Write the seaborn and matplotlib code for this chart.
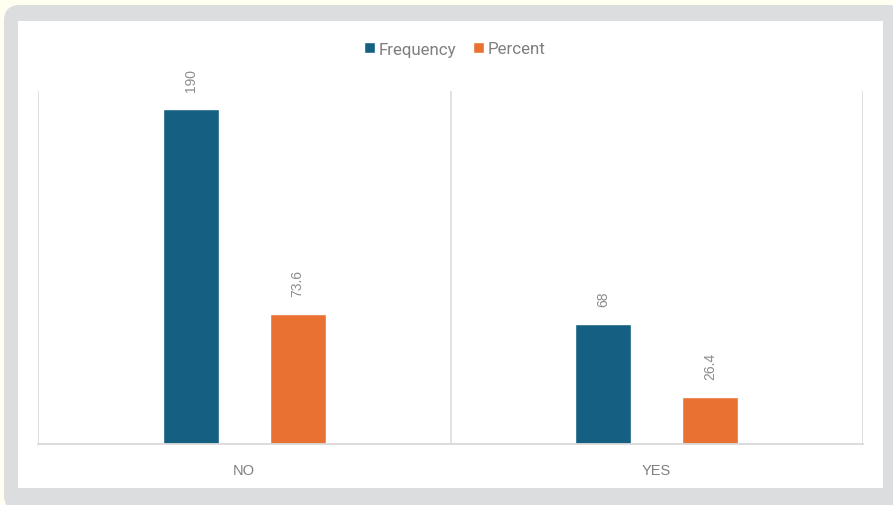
import matplotlib
matplotlib.use("Agg")
import matplotlib.pyplot as plt
import seaborn as sns
import pandas as pd
from matplotlib.patches import FancyBboxPatch, Rectangle

categories = ["NO", "YES"]
frequency = [190, 68]
percent = [73.6, 26.4]
series_names = ["Frequency", "Percent"]
colors = ["#156082", "#E97132"]

df = pd.DataFrame({
    "cat": categories * 2,
    "value": frequency + percent,
    "series": [series_names[0]] * 2 + [series_names[1]] * 2,
})

sns.set_theme(style="white")
plt.rcParams["font.family"] = ["Roboto", "DejaVu Sans"]

W, H = 893, 506
fig = plt.figure(figsize=(W / 100, H / 100), dpi=100, facecolor="#fefef1")

# outer gray rounded frame and inner white panel
fig.patches.append(FancyBboxPatch((4 / W, -6 / H), 900 / W, 506 / H,
                                  boxstyle="round,pad=0,rounding_size=0.018",
                                  transform=fig.transFigure, facecolor="#dcdddf",
                                  edgecolor="none", zorder=-2, mutation_aspect=W / H))
fig.patches.append(Rectangle((18 / W, (H - 489) / H), (883 - 18) / W, (489 - 22) / H,
                             transform=fig.transFigure, facecolor="white",
                             edgecolor="none", zorder=-1))

ax = fig.add_axes([38 / W, 61 / H, (863 - 38) / W, (445 - 92) / H])
ax.set_facecolor("none")
ax.set_zorder(1)

sns.barplot(data=df, x="cat", y="value", hue="series", palette=colors,
            order=categories, hue_order=series_names, width=0.518, gap=0.476,
            saturation=1, ax=ax, legend=True)

ax.set_xlim(-0.5, 1.5)
ax.set_ylim(0, 200)
ax.set_xlabel("")
ax.set_ylabel("")
ax.set_yticks([])
for s in ["top", "left", "right"]:
    ax.spines[s].set_visible(False)
ax.spines["bottom"].set_color("#d9d9d9")
ax.spines["bottom"].set_linewidth(1.3)
for xv in [-0.5, 0.5, 1.5]:
    ax.axvline(xv, color="#d9d9d9", lw=1.1, zorder=0)

ax.tick_params(axis="x", length=0, pad=14, labelsize=10.5, labelcolor="#7f7f7f")
for t in ax.get_xticklabels():
    t.set_fontfamily(["Liberation Sans", "DejaVu Sans"])

for cont in ax.containers:
    ax.bar_label(cont, labels=[f"{v:g}" for v in cont.datavalues], rotation=90,
                 padding=13, fontsize=10, color="#8c8c8c",
                 family=["Liberation Sans", "DejaVu Sans"])

leg = ax.get_legend()
leg.remove()
handles = [Rectangle((0, 0), 1, 1, facecolor=c) for c in colors]
fig.legend(handles, series_names, loc="center", bbox_to_anchor=(455 / W, (H - 50) / H),
           ncol=2, frameon=False, fontsize=12.2, labelcolor="#7f7f7f",
           handlelength=0.6, handleheight=0.6, handletextpad=0.25, columnspacing=1.0)

fig.savefig("out.png", dpi=100, facecolor=fig.get_facecolor())
